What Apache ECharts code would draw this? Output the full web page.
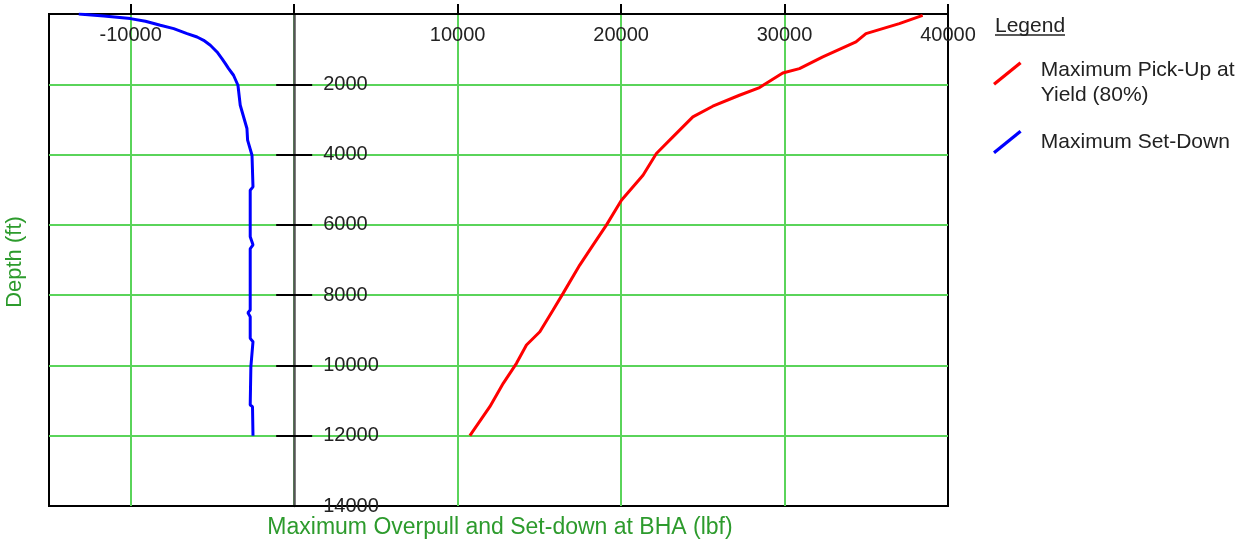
<!DOCTYPE html>
<html>
<head>
<meta charset="utf-8">
<script src="https://cdn.jsdelivr.net/npm/echarts@6/dist/echarts.min.js"></script>
<style>
html,body{margin:0;padding:0;background:#fff;}
#chart{width:1247px;height:542px;}
</style>
</head>
<body>
<div id="chart"></div>
<script>
// ---- data (depth in ft, load in lbf) ----
const pickupDepth = [40, 273, 558, 796, 1222, 1553, 1677, 2093, 2312, 2624, 2929, 3497, 3969, 4586, 5297, 6008, 6577, 7145, 7950, 8425, 9042, 9420, 9940, 10510, 11175, 12000];
const pickupLoad  = [38450, 37020, 34980, 34370, 32340, 30910, 29890, 28470, 27240, 25610, 24390, 23170, 22160, 21340, 20020, 19100, 18280, 17470, 16450, 15840, 15030, 14210, 13600, 12790, 11970, 10750];

const setdownDepth = [0, 57, 131, 208, 321, 416, 558, 654, 748, 890, 1080, 1268, 1411, 1553, 1743, 2027, 2596, 3259, 3591, 4018, 4919, 5013, 6340, 6568, 6680, 8425, 8500, 8614, 9230, 9325, 10037, 11126, 11173, 12000];
const setdownLoad  = [-13180, -11650, -10020, -9100, -8190, -7370, -6550, -5940, -5540, -5130, -4720, -4420, -4210, -4010, -3710, -3440, -3300, -2890, -2850, -2580, -2520, -2690, -2690, -2520, -2690, -2690, -2830, -2690, -2690, -2520, -2650, -2690, -2550, -2520];

const xTickValues  = [-10000, 0, 10000, 20000, 30000, 40000];
const xLabelValues = [-10000, 10000, 20000, 30000, 40000];
const yLabelValues = [2000, 4000, 6000, 8000, 10000, 12000, 14000];

const pickupName  = 'Maximum Pick-Up at Yield (80%)';
const setdownName = 'Maximum Set-Down';
const xTitle = 'Maximum Overpull and Set-down at BHA (lbf)';
const yTitle = 'Depth (ft)';
const legendTitle = 'Legend';

// ---- build ----
const FONT = '"Liberation Sans", Arial, Helvetica, sans-serif';
const GREEN_GRID = '#5ad45a';
const GREEN_TEXT = '#2d9b2d';
const TEXT = '#222';
const iconPath = 'path://M0,21 L26,0 L28,2.5 L2,23.5 Z';

const X_MIN = -15000, X_MAX = 40000;
const GRID = {left: 49, top: 14, right: 299, bottom: 36};
const CHART_W = 1247;
const gridW = CHART_W - GRID.left - GRID.right;
// shift the depth axis so it sits on load = 0
const yAxisOffset = -((0 - X_MIN) / (X_MAX - X_MIN)) * gridW;

const pickupData = pickupDepth.map((d, i) => [pickupLoad[i], d]);
const setdownData = setdownDepth.map((d, i) => [setdownLoad[i], d]);

const chart = echarts.init(document.getElementById('chart'), null, {renderer: 'canvas'});

const option = {
  animation: false,
  backgroundColor: '#fff',
  textStyle: {fontFamily: FONT},
  grid: {
    left: GRID.left, top: GRID.top, right: GRID.right, bottom: GRID.bottom,
    show: true, borderColor: '#000', borderWidth: 2, backgroundColor: 'transparent'
  },
  xAxis: {
    type: 'value', position: 'top', min: X_MIN, max: X_MAX,
    axisLine: {show: true, onZero: false, lineStyle: {color: '#000', width: 2}},
    axisTick: {show: true, inside: false, length: 10, customValues: xTickValues, lineStyle: {color: '#000', width: 2}},
    axisLabel: {
      inside: true, margin: 11, customValues: xLabelValues,
      fontSize: 20, color: TEXT, fontFamily: FONT,
      formatter: v => String(v)
    },
    splitLine: {show: true, showMaxLine: false, lineStyle: {color: GREEN_GRID, width: 2}},
    z: 0
  },
  yAxis: [
    {
      type: 'value', min: 0, max: 14000, interval: 2000, inverse: true, position: 'left',
      offset: yAxisOffset,
      axisLine: {show: true, onZero: false, lineStyle: {color: '#555', width: 2.5}},
      axisTick: {show: true, inside: false, length: 18, lineStyle: {color: '#000', width: 2}},
      axisLabel: {
        inside: true, margin: 29, customValues: yLabelValues,
        fontSize: 20, color: TEXT, fontFamily: FONT,
        formatter: v => String(v)
      },
      splitLine: {show: true, showMinLine: false, showMaxLine: false, lineStyle: {color: GREEN_GRID, width: 2}},
      z: 2
    },
    {
      type: 'value', min: 0, max: 14000, interval: 2000, inverse: true, position: 'left',
      offset: yAxisOffset,
      axisLine: {show: false, onZero: false},
      axisTick: {show: true, inside: true, length: 18, lineStyle: {color: '#000', width: 2}},
      axisLabel: {show: false},
      splitLine: {show: false},
      z: 2
    }
  ],
  legend: [
    {
      data: [{name: pickupName, icon: iconPath, itemStyle: {color: '#ff0000'}}],
      orient: 'vertical', left: 993, top: 60, padding: 0,
      itemWidth: 29, itemHeight: 24,
      formatter: n => '{a|' + n.replace(' Yield', '}\n{b|Yield') + '}',
      textStyle: {
        fontSize: 21, color: TEXT, fontFamily: FONT, padding: [0, 0, 0, 14],
        rich: {
          a: {fontSize: 21, lineHeight: 43, color: TEXT, fontFamily: FONT},
          b: {fontSize: 21, lineHeight: 6, color: TEXT, fontFamily: FONT}
        }
      }
    },
    {
      data: [{name: setdownName, icon: iconPath, itemStyle: {color: '#0000ff'}}],
      orient: 'vertical', left: 993, top: 130, padding: 0,
      itemWidth: 29, itemHeight: 24,
      textStyle: {fontSize: 21, lineHeight: 24, color: TEXT, fontFamily: FONT, padding: [0, 0, 0, 14]}
    }
  ],
  graphic: [
    {type: 'text', x: 995, y: 26, style: {text: legendTitle, font: '21px ' + FONT, fill: TEXT, align: 'left', verticalAlign: 'middle'}},
    {type: 'line', shape: {x1: 995, y1: 35, x2: 1065, y2: 35}, style: {stroke: TEXT, lineWidth: 1.5}},
    {type: 'text', x: 15, y: 262, rotation: Math.PI / 2, style: {text: yTitle, font: '22px ' + FONT, fill: GREEN_TEXT, align: 'center', verticalAlign: 'middle'}},
    {type: 'text', x: 500, y: 528, style: {text: xTitle, font: '23px ' + FONT, fill: GREEN_TEXT, align: 'center', verticalAlign: 'middle'}}
  ],
  series: [
    {
      name: pickupName, type: 'line', data: pickupData, xAxisIndex: 0, yAxisIndex: 0,
      symbol: 'none', showSymbol: false, color: '#ff0000',
      lineStyle: {color: '#ff0000', width: 3}, itemStyle: {color: '#ff0000'}, z: 3
    },
    {
      name: setdownName, type: 'line', data: setdownData, xAxisIndex: 0, yAxisIndex: 0,
      symbol: 'none', showSymbol: false, color: '#0000ff',
      lineStyle: {color: '#0000ff', width: 3}, itemStyle: {color: '#0000ff'}, z: 3
    }
  ]
};
chart.setOption(option);
</script>
</body>
</html>
